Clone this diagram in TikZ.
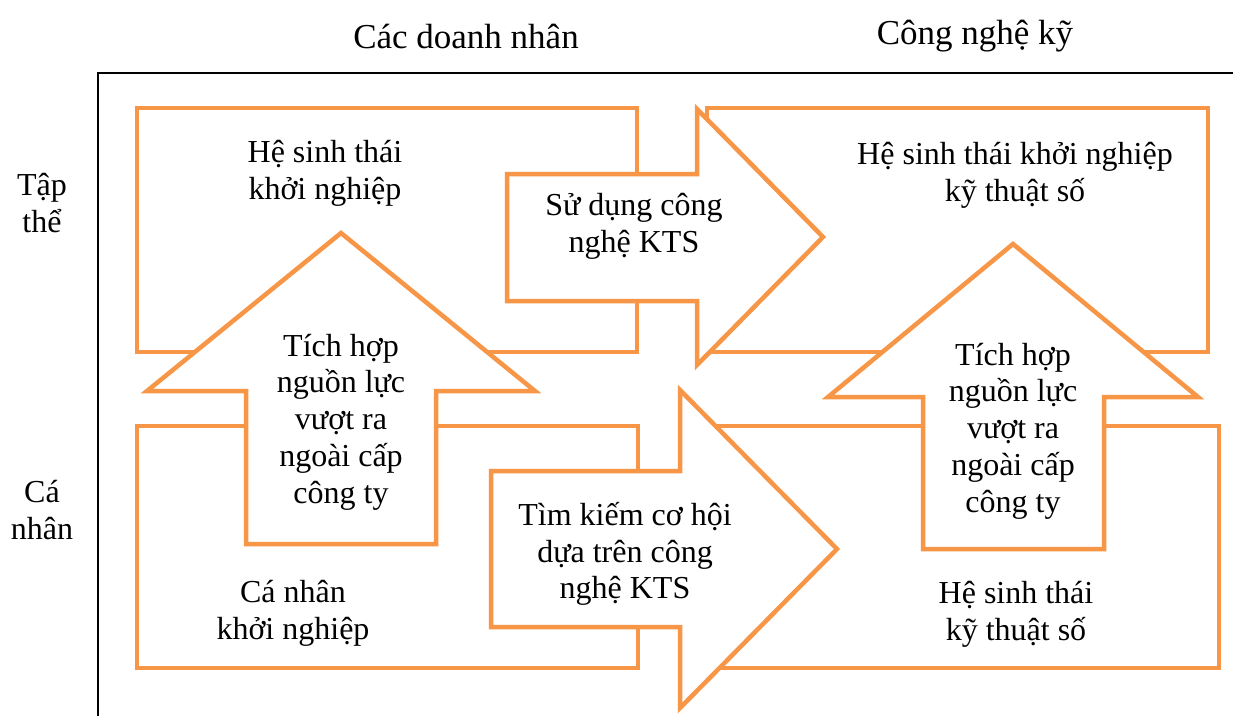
\documentclass[tikz,border=0pt]{standalone}
\usepackage{fontspec}
\setmainfont{Liberation Serif}
\definecolor{accent}{HTML}{F79646}
\begin{document}
\begin{tikzpicture}[x=1pt,y=-1pt,
  panel/.style={draw=accent, line width=4.5pt, fill=white, inner sep=0pt},
  bigarrow/.style={draw=accent, line width=4.5pt, fill=white, line join=miter},
  txt/.style={font=\fontsize{32}{36.8}\selectfont, align=center, inner sep=0pt},
  head/.style={font=\fontsize{35}{40}\selectfont, align=center, inner sep=0pt},
  axisline/.style={line width=2.5pt}]
\useasboundingbox (0,0) rectangle (1233,716);

% axes
\coordinate (ax0) at (98,716);
\coordinate (axc) at (98,73);
\coordinate (ax1) at (1233,73);
\draw[axisline] (ax0) -- (axc) -- (ax1);

% four quadrant panels
\node[panel, minimum width=500pt, minimum height=244pt] (tl) at (387,230) {};
\node[panel, minimum width=501pt, minimum height=244pt] (tr) at (957.5,230) {};
\node[panel, minimum width=501pt, minimum height=242pt] (bl) at (387.5,547) {};
\node[panel, minimum width=512pt, minimum height=242pt] (br) at (963,547) {};

% block arrows
\draw[bigarrow] (507,174) -- (697,174) -- (697,109) -- (823,237) -- (697,365) -- (697,301) -- (507,301) -- cycle;
\draw[bigarrow] (491,471) -- (680,471) -- (680,390) -- (837,549) -- (680,708) -- (680,627) -- (491,627) -- cycle;
\draw[bigarrow] (246,544) -- (246,391) -- (147,391) -- (341,233) -- (535,391) -- (436,391) -- (436,544) -- cycle;
\draw[bigarrow] (923,549) -- (923,397) -- (828,397) -- (1013,244) -- (1198,397) -- (1104,397) -- (1104,549) -- cycle;

% panel texts
\node[txt] (tlt) at (325,173) {Hệ sinh thái\\khởi nghiệp};
\node[txt] (trt) at (1015,175) {Hệ sinh thái khởi nghiệp\\kỹ thuật số};
\node[txt] (blt) at (293,613) {Cá nhân\\khởi nghiệp};
\node[txt] (brt) at (1016,614) {Hệ sinh thái\\kỹ thuật số};

% arrow texts
\node[txt] (tat) at (634,226) {Sử dụng công\\nghệ KTS};
\node[txt] (bat) at (625,554) {Tìm kiếm cơ hội\\dựa trên công\\nghệ KTS};
\node[txt] (lut) at (341,422) {Tích hợp\\nguồn lực\\vượt ra\\ngoài cấp\\công ty};
\node[txt] (rut) at (1013,431) {Tích hợp\\nguồn lực\\vượt ra\\ngoài cấp\\công ty};

% axis labels
\node[head] (c1) at (466,36) {Các doanh nhân};
\node[head] (c2) at (975,36) {Công nghệ kỹ};
\node[txt] (r1) at (42,203) {Tập\\thể};
\node[txt] (r2) at (42,510) {Cá\\nhân};
\end{tikzpicture}
\end{document}
